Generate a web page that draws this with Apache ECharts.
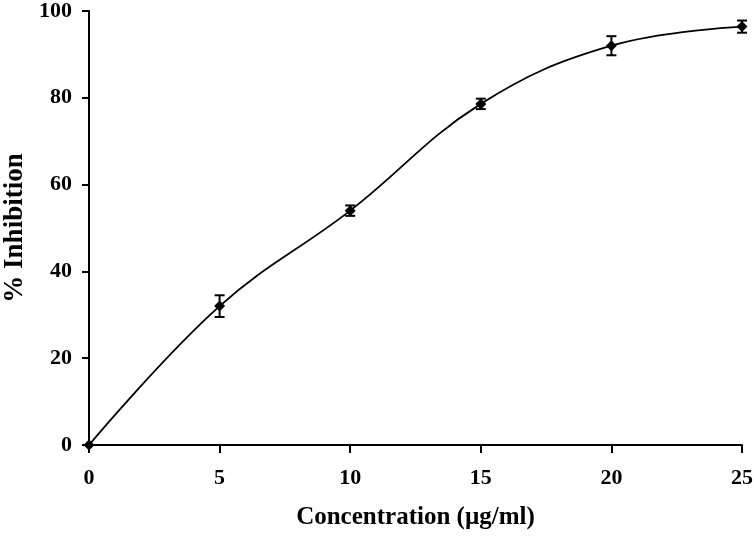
<!DOCTYPE html>
<html>
<head>
<meta charset="utf-8">
<script src="https://cdn.jsdelivr.net/npm/echarts@6/dist/echarts.min.js"></script>
<style>
  html, body { margin: 0; padding: 0; background: #fff; }
  #main { width: 754px; height: 545px; }
</style>
</head>
<body>
<div id="main"></div>
<script>
// concentration (µg/ml) and % inhibition
var concentration = [0, 5, 10, 15, 20, 25]
var inhibition = [0, 32, 54, 78.6, 92, 96.4]
var errorSd = [0, 2.5, 1.2, 1.2, 2.2, 1.4]

var points = concentration.map(function (c, i) { return [c, inhibition[i]] })
var bars = concentration.map(function (c, i) {
  return [c, inhibition[i] - errorSd[i], inhibition[i] + errorSd[i]]
})

var font = '"Liberation Serif", "Times New Roman", serif'
var myChart = echarts.init(document.getElementById('main'))
var option = {
  animation: false,
  grid: {
    left: 89,
    right: 12,
    top: 11,
    bottom: 100,
    outerBoundsMode: 'none'
  },
  xAxis: {
    type: 'value',
    min: 0,
    max: 25,
    interval: 5,
    name: 'Concentration (µg/ml)',
    nameLocation: 'center',
    nameGap: 60,
    nameTextStyle: { fontFamily: font, fontWeight: 'bold', fontSize: 25, color: '#000' },
    axisLine: { onZero: false, lineStyle: { color: '#000', width: 2 } },
    axisTick: { show: true, inside: false, length: 8, lineStyle: { color: '#000', width: 2 } },
    axisLabel: { margin: 22, fontFamily: font, fontWeight: 'bold', fontSize: 22, color: '#000' },
    splitLine: { show: false }
  },
  yAxis: {
    type: 'value',
    min: 0,
    max: 100,
    interval: 20,
    name: '% Inhibition',
    nameLocation: 'center',
    nameGap: 59,
    nameTextStyle: { fontFamily: font, fontWeight: 'bold', fontSize: 27, color: '#000' },
    axisLine: { show: true, lineStyle: { color: '#000', width: 2 } },
    axisTick: { show: true, inside: false, length: 7, lineStyle: { color: '#000', width: 2 } },
    axisLabel: { margin: 17, fontFamily: font, fontWeight: 'bold', fontSize: 22, color: '#000' },
    splitLine: { show: false }
  },
  series: [
    {
      type: 'line',
      data: points,
      smooth: 0.4,
      symbol: 'diamond',
      symbolSize: 11,
      itemStyle: { color: '#000' },
      lineStyle: { color: '#000', width: 1.8 },
      z: 3
    },
    {
      // error bars
      type: 'custom',
      data: bars,
      z: 4,
      renderItem: function (params, api) {
        var x = api.value(0)
        var lo = api.coord([x, api.value(1)])
        var hi = api.coord([x, api.value(2)])
        var w = 5
        var s = { stroke: '#000', lineWidth: 2 }
        return {
          type: 'group',
          children: [
            { type: 'line', shape: { x1: lo[0], y1: lo[1], x2: hi[0], y2: hi[1] }, style: s },
            { type: 'line', shape: { x1: hi[0] - w, y1: hi[1], x2: hi[0] + w, y2: hi[1] }, style: s },
            { type: 'line', shape: { x1: lo[0] - w, y1: lo[1], x2: lo[0] + w, y2: lo[1] }, style: s }
          ]
        }
      }
    }
  ]
}
option && myChart.setOption(option)
</script>
</body>
</html>
